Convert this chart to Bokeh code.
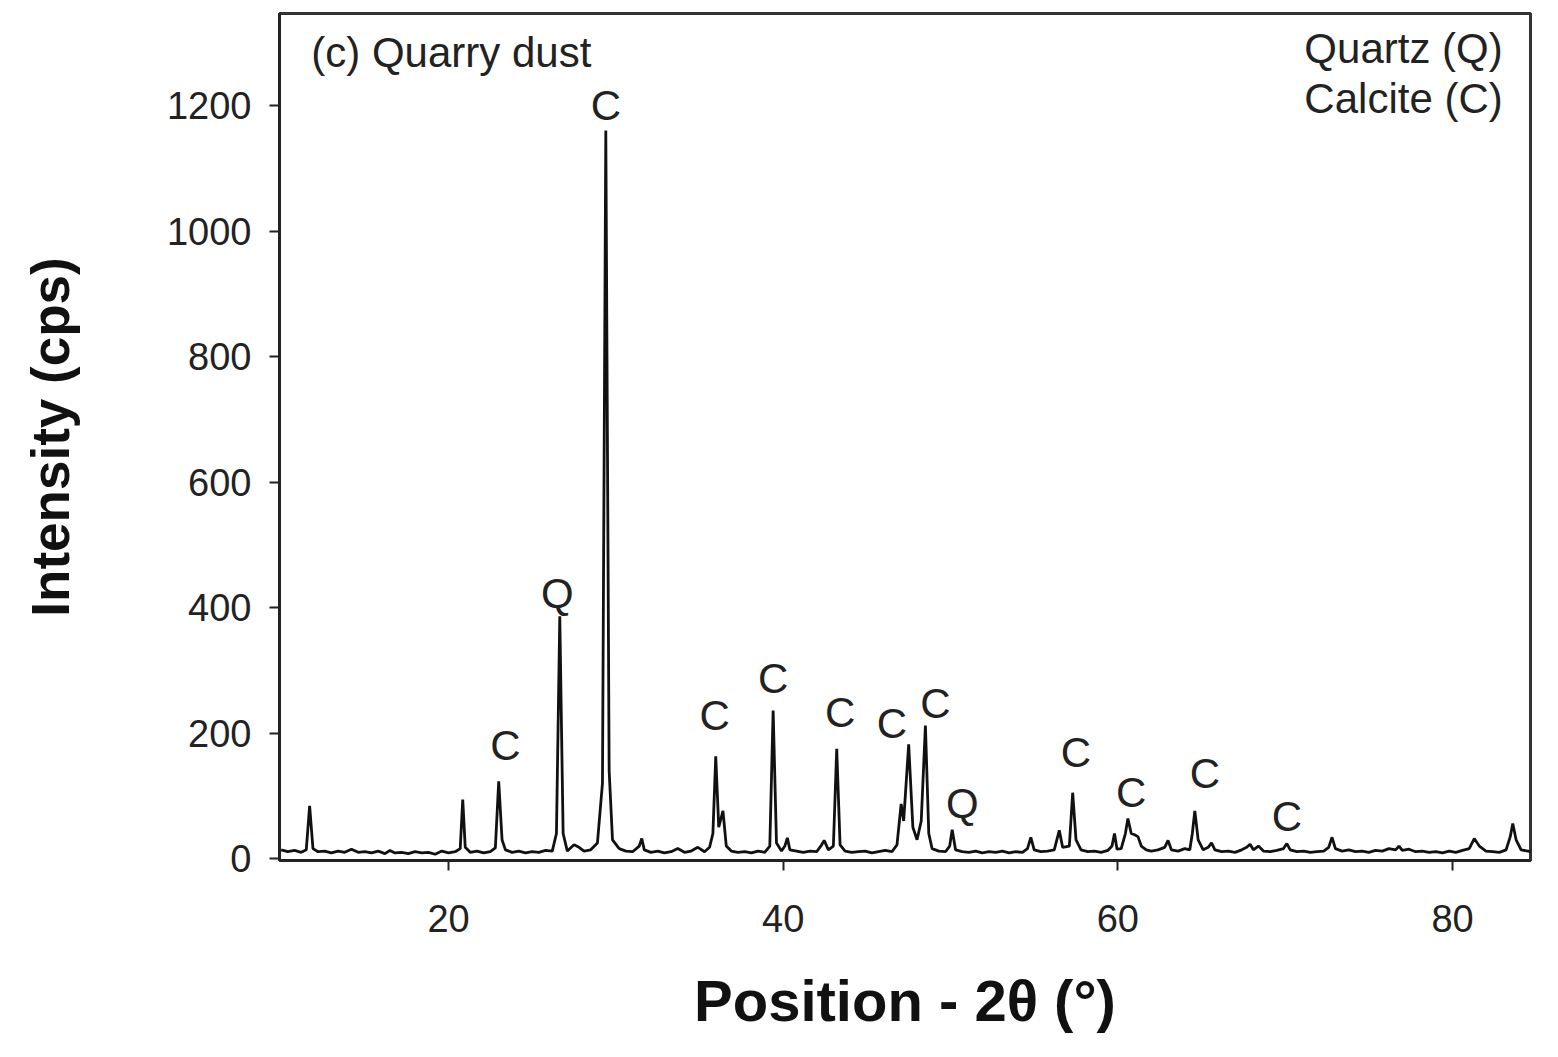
from bokeh.plotting import figure
from bokeh.models import Range1d, FixedTicker, ColumnDataSource
from bokeh.core.properties import value
from bokeh.embed import file_html
from bokeh.resources import INLINE

# XRD pattern: 2theta (deg), intensity (cps)
two_theta = [
    10.0, 10.4, 10.8, 11.2, 11.5, 11.7, 11.9, 12.2, 12.6, 13.0, 13.4, 13.8, 14.2, 14.6, 15.0,
    15.4, 15.8, 16.2, 16.5, 16.8, 17.2, 17.6, 18.0, 18.4, 18.8, 19.2, 19.6, 20.0, 20.4, 20.7,
    20.85, 21.0, 21.3, 21.7, 22.1, 22.5, 22.8, 23.0, 23.2, 23.4, 23.8, 24.2, 24.6, 25.0, 25.4,
    25.8, 26.2, 26.45, 26.65, 26.85, 27.1, 27.5, 27.8, 28.1, 28.5, 28.9, 29.2, 29.4, 29.6, 29.8,
    30.2, 30.6, 31.0, 31.4, 31.55, 31.7, 32.1, 32.5, 32.9, 33.3, 33.7, 34.1, 34.5, 34.9, 35.3,
    35.6, 35.8, 35.97, 36.15, 36.4, 36.6, 36.9, 37.3, 37.7, 38.1, 38.5, 38.9, 39.2, 39.4, 39.6,
    39.9, 40.1, 40.25, 40.4, 40.8, 41.2, 41.6, 42.0, 42.3, 42.45, 42.7, 43.0, 43.2, 43.4, 43.7,
    44.1, 44.5, 44.9, 45.3, 45.7, 46.1, 46.5, 46.8, 47.05, 47.2, 47.5, 47.75, 48.0, 48.25, 48.5,
    48.7, 48.9, 49.3, 49.7, 49.95, 50.1, 50.3, 50.7, 51.1, 51.5, 51.9, 52.3, 52.7, 53.1, 53.5,
    53.9, 54.3, 54.6, 54.8, 55.0, 55.4, 55.8, 56.2, 56.5, 56.7, 57.1, 57.3, 57.5, 57.8, 58.2,
    58.6, 59.0, 59.4, 59.65, 59.8, 59.95, 60.2, 60.45, 60.6, 60.8, 61.0, 61.2, 61.4, 61.7, 62.0,
    62.4, 62.8, 63.0, 63.2, 63.6, 64.0, 64.3, 64.45, 64.6, 64.8, 65.1, 65.4, 65.6, 65.8, 66.2,
    66.6, 67.0, 67.4, 67.7, 67.9, 68.1, 68.4, 68.7, 69.1, 69.5, 69.9, 70.1, 70.3, 70.7, 71.1,
    71.5, 71.9, 72.3, 72.6, 72.8, 73.0, 73.4, 73.8, 74.2, 74.6, 75.0, 75.4, 75.8, 76.2, 76.6,
    76.8, 77.0, 77.4, 77.8, 78.2, 78.6, 79.0, 79.4, 79.8, 80.2, 80.6, 81.0, 81.3, 81.6, 82.0,
    82.4, 82.8, 83.2, 83.45, 83.6, 83.8, 84.1, 84.5, 84.9,
]
intensity = [
    14, 11, 13, 10, 14, 84, 16, 11, 12, 9, 12, 10, 15, 10, 11,
    9, 12, 8, 13, 9, 10, 8, 11, 9, 10, 7, 12, 9, 11, 16,
    94, 18, 10, 12, 9, 11, 17, 123, 30, 14, 10, 12, 9, 11, 10,
    13, 12, 40, 386, 40, 12, 22, 18, 12, 14, 25, 120, 1160, 140, 30,
    16, 12, 11, 20, 32, 14, 10, 12, 9, 11, 16, 10, 12, 18, 11,
    18, 40, 163, 50, 76, 20, 12, 10, 11, 9, 12, 10, 20, 236, 25,
    12, 20, 33, 14, 12, 10, 12, 11, 22, 29, 14, 20, 175, 22, 12,
    10, 11, 12, 9, 11, 13, 11, 22, 87, 60, 182, 50, 30, 60, 212,
    40, 16, 12, 11, 20, 46, 14, 11, 10, 12, 9, 11, 10, 12, 9,
    11, 10, 16, 34, 14, 11, 12, 14, 45, 18, 20, 105, 30, 14, 11,
    12, 10, 13, 20, 40, 15, 16, 40, 64, 40, 38, 35, 20, 14, 12,
    14, 18, 29, 14, 12, 16, 14, 40, 76, 30, 14, 18, 25, 14, 11,
    12, 10, 14, 18, 23, 14, 20, 12, 11, 13, 16, 24, 14, 11, 12,
    10, 11, 12, 18, 34, 16, 12, 14, 11, 12, 10, 13, 12, 16, 14,
    20, 13, 15, 11, 12, 10, 11, 9, 12, 10, 13, 16, 32, 20, 12,
    11, 10, 14, 35, 56, 30, 14, 12, 10,
]

# Phase labels above peaks
label_x = [23.4, 26.5, 29.4, 35.9, 39.4, 43.4, 46.5, 49.1, 50.7, 57.5, 60.8, 65.2, 70.1]
label_y = [180, 422, 1200, 228, 287, 233, 215, 247, 88, 169, 105, 135, 67]
label_text = ["C", "Q", "C", "C", "C", "C", "C", "C", "Q", "C", "C", "C", "C"]

x_ticks = [20, 40, 60, 80]
y_ticks = [0, 200, 400, 600, 800, 1000, 1200]

FONT = "Liberation Sans"
TXT = "#222222"

p = figure(
    frame_width=1251, frame_height=847,
    min_border_left=279, min_border_top=13, min_border_right=12, min_border_bottom=180,
    x_range=Range1d(9.9, 84.66), y_range=Range1d(-3, 1346.6),
    output_backend="svg", toolbar_location=None,
    background_fill_color="white", border_fill_color="white",
)
p.grid.visible = False
p.outline_line_color = "#333333"
p.outline_line_width = 3

p.line(two_theta, intensity, line_color="#111111", line_width=2.8)

src = ColumnDataSource(dict(x=label_x, y=label_y, t=label_text))
p.text(x="x", y="y", text="t", source=src, text_align="center", text_baseline="middle",
       text_font=value(FONT), text_font_size="42px", text_color=TXT)

p.text(x=[11.8], y=[1284], text=["(c) Quarry dust"], text_align="left", text_baseline="middle",
       text_font=value(FONT), text_font_size="42px", text_color=TXT)
p.text(x=[83.0, 83.0], y=[1291, 1211], text=["Quartz (Q)", "Calcite (C)"], text_align="right",
       text_baseline="middle", text_font=value(FONT), text_font_size="42px", text_color=TXT)

for ax in (p.xaxis[0], p.yaxis[0]):
    ax.axis_line_width = 3
    ax.axis_line_color = "#222222"
    ax.major_tick_line_width = 2
    ax.major_tick_line_color = "#222222"
    ax.major_tick_out = 10
    ax.major_tick_in = 0
    ax.minor_tick_out = 0
    ax.minor_tick_in = 0
    ax.major_label_text_font = FONT
    ax.major_label_text_color = TXT
    ax.axis_label_text_font = FONT
    ax.axis_label_text_font_style = "bold"
    ax.axis_label_text_color = "#111111"

p.xaxis.ticker = FixedTicker(ticks=x_ticks)
p.yaxis.ticker = FixedTicker(ticks=y_ticks)
p.xaxis.major_label_text_font_size = "38px"
p.yaxis.major_label_text_font_size = "38px"
p.xaxis.major_label_standoff = 34
p.yaxis.major_label_standoff = 18
p.xaxis.axis_label = "Position - 2θ (°)"
p.yaxis.axis_label = "Intensity (cps)"
p.xaxis.axis_label_text_font_size = "58px"
p.yaxis.axis_label_text_font_size = "53px"
p.xaxis.axis_label_standoff = 33
p.yaxis.axis_label_standoff = 84

open("out.html", "w").write(file_html(p, INLINE))
